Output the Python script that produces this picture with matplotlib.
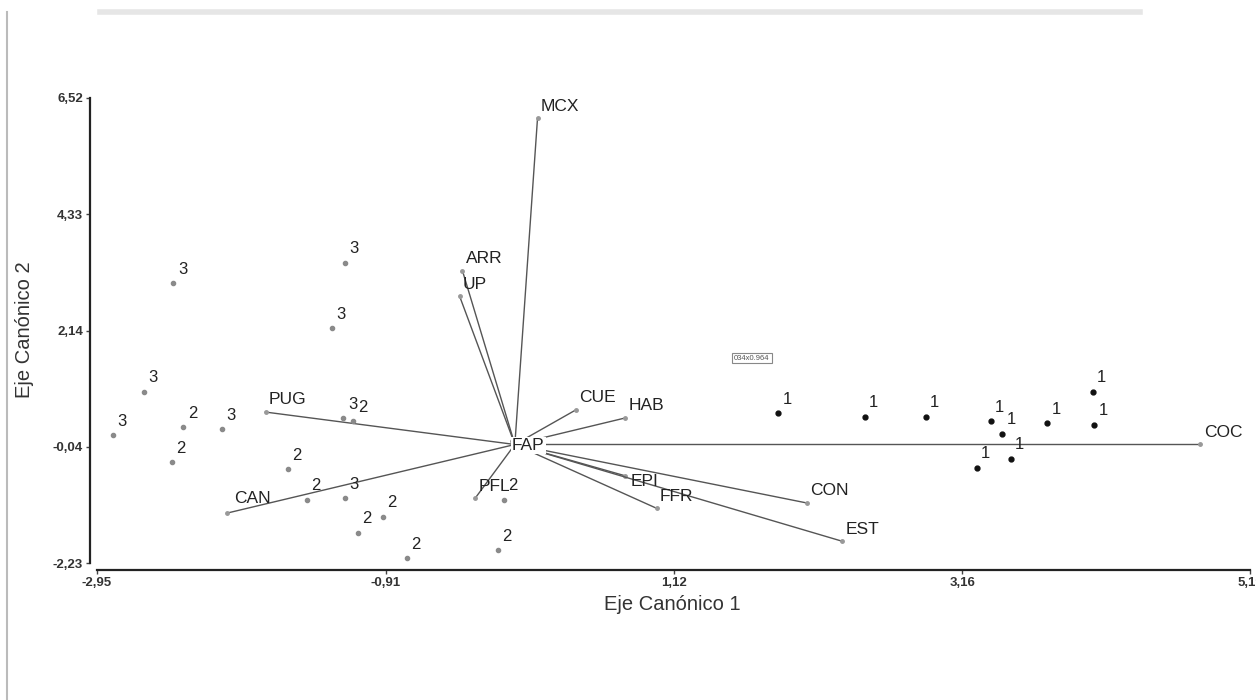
import numpy as np
import matplotlib.pyplot as plt

plt.rcParams['font.family'] = ['Liberation Sans', 'DejaVu Sans']

# Ejes y marcas
x_ticks = [-2.95, -0.91, 1.12, 3.16, 5.19]
x_tick_labels = ['-2,95', '-0,91', '1,12', '3,16', '5,19']
y_ticks = [-2.23, -0.04, 2.14, 4.33, 6.52]
y_tick_labels = ['-2,23', '-0,04', '2,14', '4,33', '6,52']

# Variables (extremos de los vectores)
var_names = ['MCX', 'ARR', 'UP', 'CUE', 'HAB', 'COC', 'PUG', 'CAN',
             'PFL', 'EPI', 'FFR', 'CON', 'EST', 'FAP']
var_x = [0.16, -0.37, -0.39, 0.43, 0.78, 4.84, -1.76, -2.03,
         -0.28, 0.78, 1.00, 2.06, 2.31, -0.02]
var_y = [6.14, 3.27, 2.79, 0.65, 0.50, 0.00, 0.61, -1.29,
         -1.01, -0.59, -1.20, -1.10, -1.82, 0.06]

# Grupos
g1_x = [1.86, 2.47, 2.90, 3.36, 3.44, 3.26, 3.50, 3.76, 4.08, 4.09]
g1_y = [0.59, 0.52, 0.52, 0.44, 0.20, -0.44, -0.27, 0.40, 0.99, 0.37]

g2_x = [-1.14, -2.34, -2.42, -1.60, -1.47, -0.93, -1.11, -0.76, -0.08, -0.12]
g2_y = [0.44, 0.33, -0.33, -0.46, -1.04, -1.36, -1.66, -2.14, -1.04, -1.99]

g3_x = [-2.41, -1.20, -1.29, -2.62, -2.84, -2.07, -1.21, -1.20]
g3_y = [3.04, 3.42, 2.19, 0.99, 0.18, 0.29, 0.50, -1.01]

# desplazamiento de etiquetas de variables (puntos)
lab_off = {'EPI': (3.5, -7.5), 'CAN': (5, 7), 'FAP': (0, -6)}

fig = plt.figure(figsize=(12.56, 7.0), dpi=100)
W, H = 1256, 700
ax = fig.add_axes([97 / W, 1 - 563 / H, (1250 - 97) / W, (563 - 98) / H])
ax.set_xlim(x_ticks[0], x_ticks[-1])
ax.set_ylim(y_ticks[0], y_ticks[-1])

for s in ['top', 'right']:
    ax.spines[s].set_visible(False)
for s in ['left', 'bottom']:
    ax.spines[s].set_position(('outward', 5))
    ax.spines[s].set_linewidth(1.6)
    ax.spines[s].set_color('#222222')

ax.set_xticks(x_ticks)
ax.set_xticklabels(x_tick_labels, fontsize=9.5, fontweight='bold', color='#333333')
ax.set_yticks(y_ticks)
ax.set_yticklabels(y_tick_labels, fontsize=9.5, fontweight='bold', color='#333333')
ax.tick_params(axis='both', length=3, width=1, color='#444444', pad=2)

# vectores
for name, vx, vy in zip(var_names, var_x, var_y):
    ax.plot([0, vx], [0, vy], color='#555555', lw=1.0, clip_on=False)
    ax.plot(vx, vy, 'o', ms=2.5, color='#999999', clip_on=False)
    bb = dict(boxstyle='square,pad=0.05', fc='white', ec='none') if name == 'FAP' else None
    ax.annotate(name, (vx, vy), xytext=lab_off.get(name, (2.5, 5.5)),
                textcoords='offset points', ha='left', va='baseline',
                fontsize=12.5, color='#222222', annotation_clip=False,
                bbox=bb, zorder=5)

# puntos de los grupos
for gx, gy, lab, col, ms in [(g1_x, g1_y, '1', '#111111', 3.5),
                             (g2_x, g2_y, '2', '#8a8a8a', 3.0),
                             (g3_x, g3_y, '3', '#8a8a8a', 3.0)]:
    ax.plot(gx, gy, 'o', ms=ms, color=col, ls='none', clip_on=False)
    for px, py in zip(gx, gy):
        ax.annotate(lab, (px, py), xytext=(6.5, 10), textcoords='offset points',
                    ha='center', va='center', fontsize=12, color='#222222',
                    annotation_clip=False)

fig.text(672 / W, 1 - 605 / H, 'Eje Canónico 1', ha='center', va='center',
         fontsize=14.5, color='#333333')
fig.text(25 / W, 1 - 330 / H, 'Eje Canónico 2', ha='center', va='center',
         rotation=90, fontsize=14.5, color='#333333')

# restos del escaneo
fig.text(752 / W, 1 - 358 / H, '034x0.964', ha='center', va='center',
         fontsize=5.5, color='#555555',
         bbox=dict(boxstyle='square,pad=0.25', fc='white', ec='#888888', lw=0.8))
fig.add_artist(plt.Line2D([7 / W, 7 / W], [0, 1 - 12 / H], color='#bbbbbb', lw=1.5))
fig.add_artist(plt.Line2D([100 / W, 1140 / W], [1 - 12 / H, 1 - 12 / H],
                          color='#e6e6e6', lw=4))

fig.savefig('out.png', dpi=100)
